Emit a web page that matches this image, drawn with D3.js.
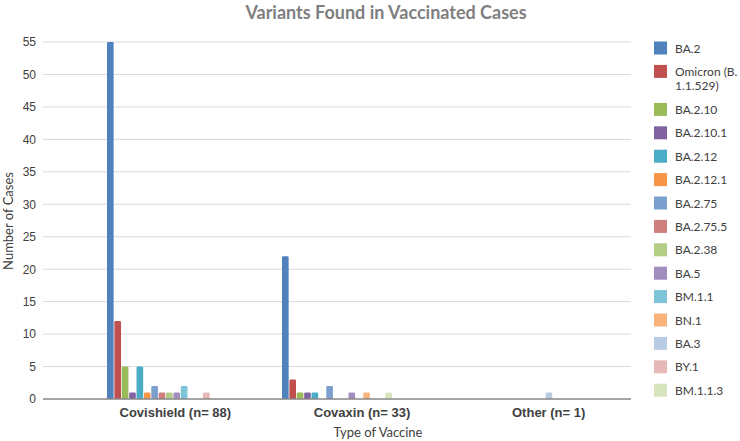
<!DOCTYPE html>
<html>
<head>
<meta charset="utf-8">
<script src="https://cdn.jsdelivr.net/npm/d3@7"></script>
<style>
  body { margin: 0; background: #fff; }
  svg { font-family: Lato, "Open Sans", sans-serif; }
  .grid line { stroke: #d9d9d9; stroke-width: 1; }
  .tick text { fill: #404040; }
</style>
</head>
<body>
<svg id="chart"></svg>
<script>
const width = 740;
const height = 441;

const categories = ["Covishield (n= 88)", "Covaxin (n= 33)", "Other (n= 1)"];
const variants = ["BA.2", "Omicron (B.1.1.529)", "BA.2.10", "BA.2.10.1", "BA.2.12", "BA.2.12.1",
  "BA.2.75", "BA.2.75.5", "BA.2.38", "BA.5", "BM.1.1", "BN.1", "BA.3", "BY.1", "BM.1.1.3"];
const covishield = [55, 12, 5, 1, 5, 1, 2, 1, 1, 1, 2, 0, 0, 1, 0];
const covaxin = [22, 3, 1, 1, 1, 0, 2, 0, 0, 1, 0, 1, 0, 0, 1];
const other = [0, 0, 0, 0, 0, 0, 0, 0, 0, 0, 0, 0, 1, 0, 0];
const yTicks = [0, 5, 10, 15, 20, 25, 30, 35, 40, 45, 50, 55];

const colors = ["#4f81bd", "#c0504d", "#9bbb59", "#8064a2", "#4bacc6", "#f79646",
  "#7ba0cd", "#cf7f7d", "#b4cd84", "#a18ebf", "#7dc4d8", "#f9b37c", "#b8cce4", "#e6b9b8", "#d7e4bd"];

const table = categories.map((c, i) => ({ cat: c, vals: [covishield, covaxin, other][i] }));

const svg = d3.select("#chart").attr("width", width).attr("height", height);

const y = d3.scaleLinear().domain([0, 55]).range([399, 42]);

// bar groups
const x0 = d3.scaleBand().domain(categories).range([107, 567]).paddingInner(65 / 175).paddingOuter(0);
const x1 = d3.scaleBand().domain(variants).range([0, x0.bandwidth()]).paddingInner(0.1);
// category labels sit on their own band
const xLabel = d3.scaleBand().domain(categories).range([82, 642]);

// grid
svg.append("g").attr("class", "grid")
  .selectAll("line").data(yTicks.filter(d => d > 0)).enter().append("line")
    .attr("x1", 43).attr("x2", 631)
    .attr("y1", d => y(d)).attr("y2", d => y(d));

// y axis
const yAxis = svg.append("g").attr("transform", "translate(43,0)")
  .call(d3.axisLeft(y).tickValues(yTicks).tickSize(0).tickPadding(7));
yAxis.select(".domain").remove();
yAxis.selectAll("text").attr("font-size", 12);

// bars
const groups = svg.append("g").selectAll("g").data(table).enter().append("g")
  .attr("transform", d => `translate(${x0(d.cat)},0)`);

groups.selectAll("rect")
  .data(d => d.vals.map((v, i) => ({ key: variants[i], v, i })).filter(e => e.v > 0))
  .enter().append("rect")
    .attr("x", d => x1(d.key))
    .attr("y", d => y(d.v))
    .attr("width", x1.bandwidth())
    .attr("height", d => y(0) - y(d.v))
    .attr("rx", 1.2)
    .attr("fill", d => colors[d.i]);

// baseline
svg.append("line")
  .attr("x1", 43).attr("x2", 631).attr("y1", y(0)).attr("y2", y(0))
  .attr("stroke", "#868686").attr("stroke-width", 1.5);

// x axis labels
const xAxis = svg.append("g").attr("transform", `translate(0,${y(0)})`)
  .call(d3.axisBottom(xLabel).tickSize(0).tickPadding(9));
xAxis.select(".domain").remove();
xAxis.selectAll("text").attr("font-size", 13).attr("font-weight", "bold").attr("fill", "#262626");

// titles
svg.append("text")
  .attr("x", 386).attr("y", 19)
  .attr("text-anchor", "middle")
  .attr("font-size", 18).attr("font-weight", "bold")
  .attr("fill", "#7f7f7f")
  .text("Variants Found in Vaccinated Cases");

svg.append("text")
  .attr("x", 378).attr("y", 437)
  .attr("text-anchor", "middle")
  .attr("font-size", 13).attr("fill", "#404040")
  .text("Type of Vaccine");

svg.append("text")
  .attr("transform", "translate(13,221) rotate(-90)")
  .attr("text-anchor", "middle")
  .attr("font-size", 13).attr("fill", "#404040")
  .text("Number of Cases");

// legend
let ly = 48;
const legend = svg.append("g");
variants.forEach((name, i) => {
  const lines = name === "Omicron (B.1.1.529)" ? ["Omicron (B.", "1.1.529)"] : [name];
  legend.append("rect")
    .attr("x", 654).attr("y", ly - 6.5)
    .attr("width", 13).attr("height", 13)
    .attr("fill", colors[i]);
  const t = legend.append("text")
    .attr("x", 675).attr("y", ly + 4.5)
    .attr("font-size", 12).attr("fill", "#404040");
  lines.forEach((l, j) => {
    t.append("tspan").attr("x", 675).attr("dy", j ? 14 : 0).text(l);
  });
  ly += 23.4 + (lines.length - 1) * 14.6;
});
</script>
</body>
</html>
